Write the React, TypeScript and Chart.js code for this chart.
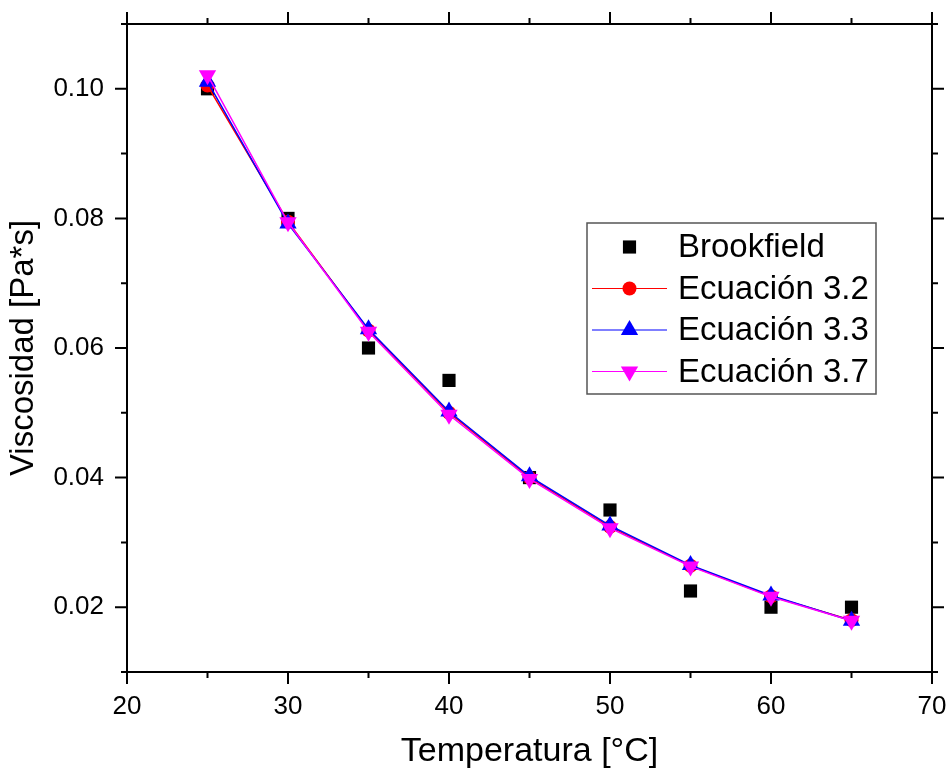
import React, { useEffect, useRef } from 'react';
import { Chart, registerables } from 'chart.js';
import { drawPoint } from 'chart.js/helpers';

Chart.register(...registerables);

const temperatures = [25, 30, 35, 40, 45, 50, 55, 60, 65];
const brookfield = [0.1, 0.08, 0.06, 0.055, 0.04, 0.035, 0.0225, 0.02, 0.02];
const ecuacion32 = [0.1005, 0.0795, 0.0627, 0.05, 0.04, 0.0324, 0.0264, 0.0217, 0.018];
const ecuacion33 = [0.1011, 0.0792, 0.0629, 0.0502, 0.0402, 0.0326, 0.0265, 0.0218, 0.0179];
const ecuacion37 = [0.1021, 0.0794, 0.0625, 0.0497, 0.0398, 0.0322, 0.0263, 0.0216, 0.0179];

const xMajorTicks = [20, 30, 40, 50, 60, 70];
const xMinorTicks = [25, 35, 45, 55, 65];
const yMajorTicks = [0.02, 0.04, 0.06, 0.08, 0.1];
const yMinorTicks = [0.01, 0.03, 0.05, 0.07, 0.09, 0.11];

const FONT = "'Liberation Sans', Arial, sans-serif";

const noPad = (s: any) => {
  s.paddingTop = 0;
  s.paddingBottom = 0;
  s.paddingLeft = 0;
  s.paddingRight = 0;
};

const framePlugin = {
  id: 'frameTicks',
  afterDraw(chart: any) {
    const { ctx, chartArea: a, scales } = chart;
    const xs = scales.x;
    const ys = scales.y;
    ctx.save();
    ctx.strokeStyle = '#000';
    ctx.lineWidth = 2;
    ctx.lineCap = 'butt';
    ctx.strokeRect(a.left, a.top, a.right - a.left, a.bottom - a.top);
    const drawX = (vals: number[], len: number) => {
      ctx.beginPath();
      for (const v of vals) {
        const px = xs.getPixelForValue(v);
        ctx.moveTo(px, a.bottom);
        ctx.lineTo(px, a.bottom + len);
        ctx.moveTo(px, a.top);
        ctx.lineTo(px, a.top - len);
      }
      ctx.stroke();
    };
    const drawY = (vals: number[], len: number) => {
      ctx.beginPath();
      for (const v of vals) {
        const py = ys.getPixelForValue(v);
        ctx.moveTo(a.left, py);
        ctx.lineTo(a.left - len, py);
        ctx.moveTo(a.right, py);
        ctx.lineTo(a.right + len, py);
      }
      ctx.stroke();
    };
    drawX(xMajorTicks, 12);
    drawX(xMinorTicks, 6);
    drawY(yMajorTicks, 12);
    drawY(yMinorTicks, 6);
    ctx.restore();
  },
};

const legendPlugin = {
  id: 'boxLegend',
  afterDraw(chart: any, _args: any, opts: any) {
    const { ctx } = chart;
    const { left, top, right, bottom, rowStart, rowGap, lineX0, lineX1, textX, fontSize } = opts;
    ctx.save();
    ctx.fillStyle = '#fff';
    ctx.fillRect(left, top, right - left, bottom - top);
    ctx.strokeStyle = '#555';
    ctx.lineWidth = 1.5;
    ctx.strokeRect(left, top, right - left, bottom - top);
    chart.data.datasets.forEach((ds: any, i: number) => {
      const y = rowStart + i * rowGap;
      const mx = (lineX0 + lineX1) / 2;
      if (ds.showLine !== false) {
        ctx.strokeStyle = ds.borderColor;
        ctx.lineWidth = 1.2;
        ctx.beginPath();
        ctx.moveTo(lineX0, y);
        ctx.lineTo(lineX1, y);
        ctx.stroke();
      }
      ctx.fillStyle = ds.pointBackgroundColor;
      ctx.strokeStyle = ds.pointBorderColor;
      ctx.lineWidth = 0;
      drawPoint(ctx, { pointStyle: ds.pointStyle, radius: ds.pointRadius, rotation: ds.pointRotation || 0, borderWidth: 0 }, mx, y);
      ctx.fillStyle = '#000';
      ctx.font = `${fontSize}px ${FONT}`;
      ctx.textAlign = 'left';
      ctx.textBaseline = 'middle';
      ctx.fillText(ds.label, textX, y + 1);
    });
    ctx.restore();
  },
};

export default function App() {
  const canvasRef = useRef<HTMLCanvasElement | null>(null);

  useEffect(() => {
    const canvas = canvasRef.current;
    if (!canvas) return;
    const toPts = (vals: number[]) => temperatures.map((t, i) => ({ x: t, y: vals[i] }));
    const chart = new Chart(canvas, {
      type: 'line',
      data: {
        datasets: [
          {
            label: 'Brookfield',
            data: toPts(brookfield),
            showLine: false,
            borderColor: '#000',
            backgroundColor: '#000',
            pointBackgroundColor: '#000',
            pointBorderColor: '#000',
            pointStyle: 'rect',
            pointRadius: 9.3,
            pointBorderWidth: 0,
            order: 3,
          },
          {
            label: 'Ecuación 3.2',
            data: toPts(ecuacion32),
            borderColor: '#ff0000',
            backgroundColor: '#ff0000',
            pointBackgroundColor: '#ff0000',
            pointBorderColor: '#ff0000',
            borderWidth: 1.5,
            pointStyle: 'circle',
            pointRadius: 7,
            pointBorderWidth: 0,
            order: 2,
          },
          {
            label: 'Ecuación 3.3',
            data: toPts(ecuacion33),
            borderColor: '#0000ff',
            backgroundColor: '#0000ff',
            pointBackgroundColor: '#0000ff',
            pointBorderColor: '#0000ff',
            borderWidth: 1.5,
            pointStyle: 'triangle',
            pointRadius: 10,
            pointBorderWidth: 0,
            order: 1,
          },
          {
            label: 'Ecuación 3.7',
            data: toPts(ecuacion37),
            borderColor: '#ff00ff',
            backgroundColor: '#ff00ff',
            pointBackgroundColor: '#ff00ff',
            pointBorderColor: '#ff00ff',
            borderWidth: 1.5,
            pointStyle: 'triangle',
            pointRotation: 180,
            pointRadius: 10,
            pointBorderWidth: 0,
            order: 0,
          },
        ] as any,
      },
      options: {
        animation: false,
        responsive: true,
        maintainAspectRatio: false,
        layout: { padding: 0, autoPadding: false },
        plugins: {
          legend: { display: false },
          tooltip: { enabled: false },
          boxLegend: {
            left: 587, top: 223, right: 876, bottom: 394,
            rowStart: 247, rowGap: 41.5,
            lineX0: 592, lineX1: 667, textX: 678, fontSize: 33,
          },
        } as any,
        scales: {
          x: {
            type: 'linear',
            position: 'bottom',
            min: 20,
            max: 70,
            afterBuildTicks: (s: any) => { s.ticks = xMajorTicks.map((v) => ({ value: v })); },
            afterFit: (s: any) => { s.height = 101; noPad(s); },
            grid: { display: false, drawTicks: false },
            border: { display: false },
            ticks: {
              color: '#000',
              font: { family: FONT, size: 26 },
              padding: 19,
              maxRotation: 0,
              callback: (v: any) => String(v),
            },
            title: {
              display: true,
              text: 'Temperatura [°C]',
              color: '#000',
              font: { family: FONT, size: 34 },
              padding: { top: 0, bottom: 1 },
            },
          },
          x2: {
            type: 'linear',
            position: 'top',
            min: 20,
            max: 70,
            display: true,
            afterFit: (s: any) => { s.height = 24; noPad(s); },
            grid: { display: false, drawTicks: false },
            border: { display: false },
            ticks: { display: false },
          },
          y: {
            type: 'linear',
            position: 'left',
            min: 0.01,
            max: 0.11,
            afterBuildTicks: (s: any) => { s.ticks = yMajorTicks.map((v) => ({ value: v })); },
            afterFit: (s: any) => { s.width = 127; noPad(s); },
            grid: { display: false, drawTicks: false },
            border: { display: false },
            ticks: {
              color: '#000',
              font: { family: FONT, size: 26 },
              padding: 23,
              callback: (v: any) => Number(v).toFixed(2),
            },
            title: {
              display: true,
              text: 'Viscosidad [Pa*s]',
              color: '#000',
              font: { family: FONT, size: 33 },
              padding: { top: 4, bottom: 0 },
            },
          },
          y2: {
            type: 'linear',
            position: 'right',
            min: 0.01,
            max: 0.11,
            display: true,
            afterFit: (s: any) => { s.width = 16; noPad(s); },
            grid: { display: false, drawTicks: false },
            border: { display: false },
            ticks: { display: false },
          },
        },
      } as any,
      plugins: [framePlugin, legendPlugin],
    });
    return () => chart.destroy();
  }, []);

  return (
    <div style={{ position: 'fixed', left: 0, top: 0, width: 948, height: 773, background: '#fff' }}>
      <canvas ref={canvasRef} />
    </div>
  );
}
